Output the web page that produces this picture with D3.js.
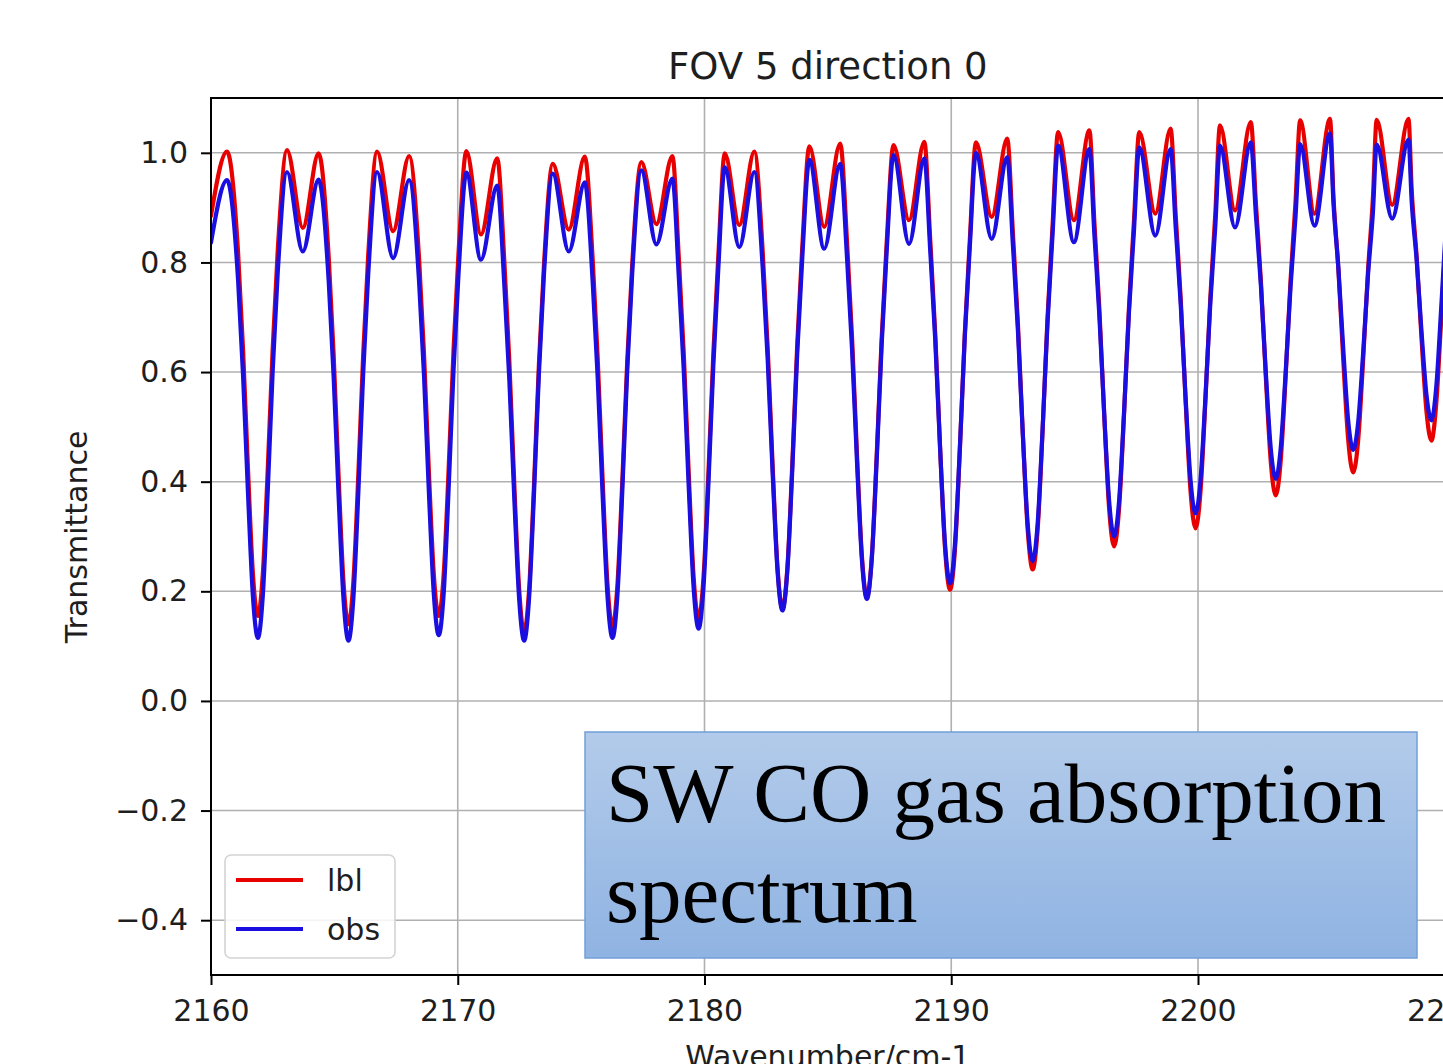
<!DOCTYPE html>
<html>
<head>
<meta charset="utf-8">
<script src="https://cdn.jsdelivr.net/npm/d3@7"></script>
<style>
  body { margin: 0; background: #fff; overflow: hidden; }
  svg text { font-family: "DejaVu Sans", sans-serif; }
</style>
</head>
<body>
<svg id="chart" width="1443" height="1064"></svg>
<script>
// ---------------- data ----------------
const wavenumber = [
  2160.00, 2160.65,
  2161.10, 2161.30, 2161.50, 2161.70, 2161.90, 2162.10, 2162.30, 2162.50, 2162.70, 2163.08, 2163.72, 2164.36,
  2164.77, 2164.97, 2165.17, 2165.37, 2165.57, 2165.77, 2165.97, 2166.17, 2166.37, 2166.73, 2167.38, 2168.03,
  2168.43, 2168.63, 2168.83, 2169.03, 2169.23, 2169.43, 2169.63, 2169.83, 2170.03, 2170.35, 2170.94, 2171.60,
  2171.89, 2172.09, 2172.29, 2172.49, 2172.69, 2172.89, 2173.09, 2173.29, 2173.49, 2173.85, 2174.50, 2175.15,
  2175.47, 2175.67, 2175.87, 2176.07, 2176.27, 2176.47, 2176.67, 2176.87, 2177.07, 2177.44, 2178.05, 2178.70,
  2178.96, 2179.16, 2179.36, 2179.56, 2179.76, 2179.96, 2180.16, 2180.36, 2180.56, 2180.82, 2181.41, 2182.02,
  2182.36, 2182.56, 2182.76, 2182.96, 2183.16, 2183.36, 2183.56, 2183.76, 2183.96, 2184.25, 2184.85, 2185.50,
  2185.78, 2185.98, 2186.18, 2186.38, 2186.58, 2186.78, 2186.98, 2187.18, 2187.38, 2187.66, 2188.29, 2188.91,
  2189.15, 2189.35, 2189.55, 2189.75, 2189.95, 2190.15, 2190.35, 2190.55, 2190.75, 2191.00, 2191.64, 2192.27,
  2192.50, 2192.70, 2192.90, 2193.10, 2193.30, 2193.50, 2193.70, 2193.90, 2194.10, 2194.33, 2194.97, 2195.60,
  2195.80, 2196.00, 2196.20, 2196.40, 2196.60, 2196.80, 2197.00, 2197.20, 2197.40, 2197.62, 2198.27, 2198.89,
  2199.10, 2199.30, 2199.50, 2199.70, 2199.90, 2200.10, 2200.30, 2200.50, 2200.70, 2200.89, 2201.50, 2202.14,
  2202.35, 2202.55, 2202.75, 2202.95, 2203.15, 2203.35, 2203.55, 2203.75, 2203.95, 2204.14, 2204.72, 2205.35,
  2205.49, 2205.69, 2205.89, 2206.09, 2206.29, 2206.49, 2206.69, 2206.89, 2207.09, 2207.24, 2207.87, 2208.53,
  2208.66, 2208.86, 2209.06, 2209.26, 2209.46, 2209.66, 2209.86, 2210.06, 2210.30
];
const lbl = [
  0.885, 1.002,
  0.816, 0.640, 0.422, 0.231, 0.155, 0.232, 0.423, 0.642, 0.818, 1.005, 0.863, 0.999,
  0.810, 0.632, 0.411, 0.217, 0.140, 0.218, 0.412, 0.634, 0.812, 1.002, 0.857, 0.994,
  0.809, 0.636, 0.419, 0.231, 0.155, 0.231, 0.422, 0.641, 0.816, 1.003, 0.851, 0.990,
  0.800, 0.621, 0.397, 0.203, 0.125, 0.202, 0.394, 0.615, 0.792, 0.980, 0.860, 0.993,
  0.804, 0.627, 0.405, 0.212, 0.135, 0.211, 0.402, 0.621, 0.796, 0.983, 0.870, 0.994,
  0.808, 0.634, 0.416, 0.226, 0.150, 0.226, 0.417, 0.636, 0.812, 0.999, 0.868, 1.002,
  0.819, 0.646, 0.431, 0.243, 0.168, 0.244, 0.434, 0.652, 0.826, 1.012, 0.865, 1.017,
  0.835, 0.663, 0.450, 0.264, 0.189, 0.263, 0.449, 0.662, 0.833, 1.014, 0.877, 1.020,
  0.840, 0.671, 0.460, 0.277, 0.203, 0.276, 0.460, 0.671, 0.839, 1.019, 0.883, 1.026,
  0.853, 0.690, 0.488, 0.311, 0.240, 0.312, 0.491, 0.697, 0.862, 1.038, 0.877, 1.041,
  0.874, 0.717, 0.521, 0.350, 0.282, 0.350, 0.520, 0.715, 0.872, 1.038, 0.889, 1.044,
  0.884, 0.733, 0.545, 0.381, 0.315, 0.381, 0.547, 0.736, 0.888, 1.050, 0.895, 1.056,
  0.906, 0.765, 0.590, 0.436, 0.375, 0.437, 0.590, 0.767, 0.909, 1.059, 0.889, 1.062,
  0.920, 0.787, 0.620, 0.475, 0.417, 0.475, 0.620, 0.785, 0.919, 1.060, 0.905, 1.062,
  0.933, 0.811, 0.660, 0.528, 0.475, 0.545, 0.700, 0.860, 0.990
];
const obs = [
  0.836, 0.950,
  0.766, 0.593, 0.378, 0.190, 0.115, 0.192, 0.383, 0.602, 0.778, 0.965, 0.820, 0.951,
  0.766, 0.592, 0.375, 0.186, 0.110, 0.187, 0.379, 0.600, 0.777, 0.965, 0.808, 0.950,
  0.767, 0.596, 0.381, 0.195, 0.120, 0.196, 0.386, 0.604, 0.778, 0.964, 0.805, 0.940,
  0.757, 0.586, 0.371, 0.185, 0.110, 0.187, 0.378, 0.598, 0.775, 0.962, 0.820, 0.946,
  0.763, 0.591, 0.377, 0.190, 0.115, 0.192, 0.384, 0.604, 0.780, 0.968, 0.833, 0.953,
  0.772, 0.602, 0.391, 0.206, 0.132, 0.208, 0.397, 0.614, 0.789, 0.974, 0.828, 0.965,
  0.789, 0.623, 0.417, 0.237, 0.165, 0.239, 0.424, 0.636, 0.806, 0.987, 0.825, 0.980,
  0.805, 0.641, 0.436, 0.257, 0.186, 0.259, 0.441, 0.650, 0.818, 0.996, 0.834, 0.990,
  0.820, 0.659, 0.459, 0.285, 0.215, 0.286, 0.462, 0.665, 0.827, 1.000, 0.843, 0.992,
  0.830, 0.677, 0.487, 0.321, 0.255, 0.323, 0.494, 0.689, 0.846, 1.013, 0.837, 1.007,
  0.851, 0.705, 0.523, 0.364, 0.300, 0.364, 0.524, 0.707, 0.854, 1.010, 0.849, 1.007,
  0.861, 0.723, 0.551, 0.402, 0.342, 0.402, 0.553, 0.726, 0.865, 1.013, 0.864, 1.019,
  0.884, 0.757, 0.598, 0.460, 0.405, 0.460, 0.597, 0.755, 0.882, 1.016, 0.867, 1.035,
  0.908, 0.789, 0.640, 0.510, 0.458, 0.508, 0.633, 0.777, 0.892, 1.015, 0.880, 1.024,
  0.911, 0.805, 0.673, 0.558, 0.512, 0.575, 0.720, 0.870, 0.960
];
const seriesNames = ["lbl", "obs"];
const seriesColors = ["#e80000", "#1a0ee0"];
const xTickValues = [2160, 2170, 2180, 2190, 2200, 2210];
const yTickValues = [-0.4, -0.2, 0.0, 0.2, 0.4, 0.6, 0.8, 1.0];
const xDomain = [2160, 2210];
const yDomain = [-0.5, 1.1];
const titleText = "FOV 5 direction 0";
const xLabelText = "Wavenumber/cm-1";
const yLabelText = "Transmittance";
const noteLines = ["SW CO gas absorption", "spectrum"];

// ---------------- layout ----------------
const svg = d3.select("#chart");
const plot = { left: 211, right: 1444.75, top: 98, bottom: 975 };

const x = d3.scaleLinear().domain(xDomain).range([plot.left, plot.right]);
const y = d3.scaleLinear().domain(yDomain).range([plot.bottom, plot.top]);

svg.append("rect").attr("width", 1443).attr("height", 1064).attr("fill", "#fff");

svg.append("defs").append("clipPath").attr("id", "plotClip")
  .append("rect")
  .attr("x", plot.left).attr("y", plot.top)
  .attr("width", plot.right - plot.left).attr("height", plot.bottom - plot.top);

// grid
const grid = svg.append("g").attr("stroke", "#b0b0b0").attr("stroke-width", 1.6);
grid.selectAll("line.gx").data(xTickValues).join("line")
  .attr("x1", d => x(d)).attr("x2", d => x(d))
  .attr("y1", plot.top).attr("y2", plot.bottom);
grid.selectAll("line.gy").data(yTickValues).join("line")
  .attr("x1", plot.left).attr("x2", plot.right)
  .attr("y1", d => y(d)).attr("y2", d => y(d));

// lines
const rows = wavenumber.map((w, i) => ({ w, lbl: lbl[i], obs: obs[i] }));
const lineGen = key => d3.line()
  .x(d => x(d.w)).y(d => y(d[key]))
  .curve(d3.curveMonotoneX);

const lines = svg.append("g").attr("clip-path", "url(#plotClip)");
seriesNames.forEach((name, i) => {
  lines.append("path")
    .datum(rows)
    .attr("fill", "none")
    .attr("stroke", seriesColors[i])
    .attr("stroke-width", 4.2)
    .attr("stroke-linejoin", "round")
    .attr("stroke-linecap", "round")
    .attr("d", lineGen(name));
});

// axes
const fmtY = d3.format(".1f");
const xAxis = svg.append("g").attr("transform", `translate(0,${plot.bottom})`)
  .call(d3.axisBottom(x).tickValues(xTickValues).tickFormat(d3.format("d"))
    .tickSize(10).tickSizeOuter(0).tickPadding(15));
const yAxis = svg.append("g").attr("transform", `translate(${plot.left},0)`)
  .call(d3.axisLeft(y).tickValues(yTickValues).tickFormat(fmtY)
    .tickSize(10).tickSizeOuter(0).tickPadding(13));
[xAxis, yAxis].forEach(g => {
  g.select(".domain").remove();
  g.selectAll(".tick line").attr("stroke", "#000").attr("stroke-width", 2);
  g.selectAll(".tick text").attr("fill", "#1e1e1e")
    .style("font-family", '"DejaVu Sans", sans-serif').style("font-size", "30px");
});

// spines
svg.append("rect")
  .attr("x", plot.left).attr("y", plot.top)
  .attr("width", plot.right - plot.left).attr("height", plot.bottom - plot.top)
  .attr("fill", "none").attr("stroke", "#000").attr("stroke-width", 2);

// title & axis labels
svg.append("text").attr("x", (plot.left + plot.right) / 2).attr("y", 79)
  .attr("text-anchor", "middle").attr("fill", "#1e1e1e")
  .style("font-size", "37px").text(titleText);
svg.append("text").attr("x", (plot.left + plot.right) / 2).attr("y", 1067)
  .attr("text-anchor", "middle").attr("fill", "#1e1e1e")
  .style("font-size", "30px").text(xLabelText);
svg.append("text").attr("transform", "translate(87,537) rotate(-90)")
  .attr("text-anchor", "middle").attr("fill", "#1e1e1e")
  .style("font-size", "30px").text(yLabelText);

// legend
const leg = svg.append("g");
leg.append("rect").attr("x", 225).attr("y", 855).attr("width", 170).attr("height", 103)
  .attr("rx", 6).attr("fill", "#fff").attr("fill-opacity", 0.85)
  .attr("stroke", "#d4d4d4").attr("stroke-width", 1.6);
seriesNames.forEach((name, i) => {
  const ly = 880 + i * 49;
  leg.append("line").attr("x1", 236).attr("x2", 303).attr("y1", ly).attr("y2", ly)
    .attr("stroke", seriesColors[i]).attr("stroke-width", 4);
  leg.append("text").attr("x", 327).attr("y", ly + 11).attr("fill", "#1e1e1e")
    .style("font-size", "30px").text(name);
});

// annotation box
const grad = svg.select("defs").append("linearGradient").attr("id", "noteGrad")
  .attr("x1", 0).attr("y1", 0).attr("x2", 0).attr("y2", 1);
grad.append("stop").attr("offset", "0%").attr("stop-color", "#b3cbea");
grad.append("stop").attr("offset", "100%").attr("stop-color", "#8fb3e2");
svg.append("rect").attr("x", 585).attr("y", 732).attr("width", 832).attr("height", 226)
  .attr("fill", "url(#noteGrad)").attr("stroke", "#72a0d8").attr("stroke-width", 1.5);
noteLines.forEach((t, i) => {
  svg.append("text").attr("x", 606).attr("y", 822 + i * 100)
    .style("font-family", '"Liberation Serif", "Times New Roman", serif')
    .style("font-size", "85px").attr("fill", "#000").text(t);
});
</script>
</body>
</html>
